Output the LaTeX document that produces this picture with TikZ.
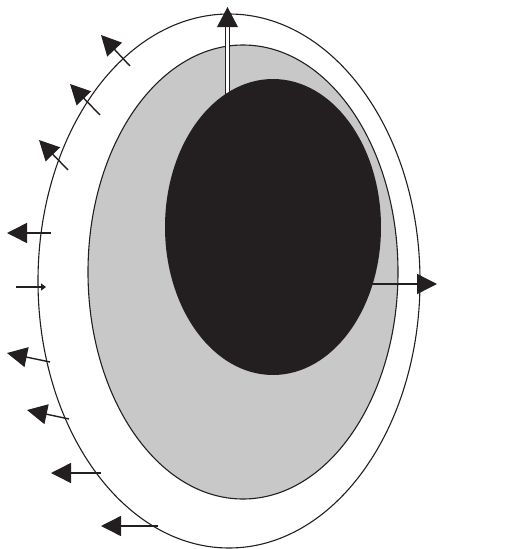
\documentclass[tikz,border=0pt]{standalone}
\usetikzlibrary{arrows.meta}
\definecolor{cellgray}{RGB}{200,200,200}
\definecolor{coreblack}{RGB}{35,31,32}
\tikzset{
  outline/.style={line width=1.1pt, draw=coreblack},
  flux/.style={line width=1.4pt, draw=coreblack, -{Triangle[length=20pt,width=20pt]}},
  smallflux/.style={line width=1.4pt, draw=coreblack, -{Triangle[length=5pt,width=7pt]}},
}
\begin{document}
\begin{tikzpicture}[x=1pt,y=-1pt]
\useasboundingbox (0,0) rectangle (516,549);
% outer ellipse
\draw[outline] (229,281) ellipse [x radius=191, y radius=267];
% gray ellipse
\draw[outline, fill=cellgray] (243,272) ellipse [x radius=155, y radius=227];
% top double arrow shaft
\draw[line width=1pt, double=white, double distance=3.5pt, draw=coreblack] (227.5,110) -- (227.5,24);
\fill[coreblack] (217,27) -- (238,27) -- (227.5,7) -- cycle;
% black core
\fill[coreblack] (273,227) ellipse [x radius=108, y radius=148];
% right arrow
\coordinate (rs) at (360,284);
\coordinate (re) at (437,284);
\draw[flux] (rs) -- (re);
% left arrows
\draw[flux] (130,66) -- (101,35);
\draw[flux] (100,115) -- (70,84);
\draw[flux] (68,170) -- (39,140);
\draw[flux] (51,233) -- (7,233);
\draw[smallflux] (16,287) -- (46,287);
\draw[flux] (50,362) -- (7,353);
\draw[flux] (69,419) -- (27,410);
\draw[flux] (101,473) -- (51,473);
\draw[flux] (158,526) -- (101,526);
\end{tikzpicture}
\end{document}
